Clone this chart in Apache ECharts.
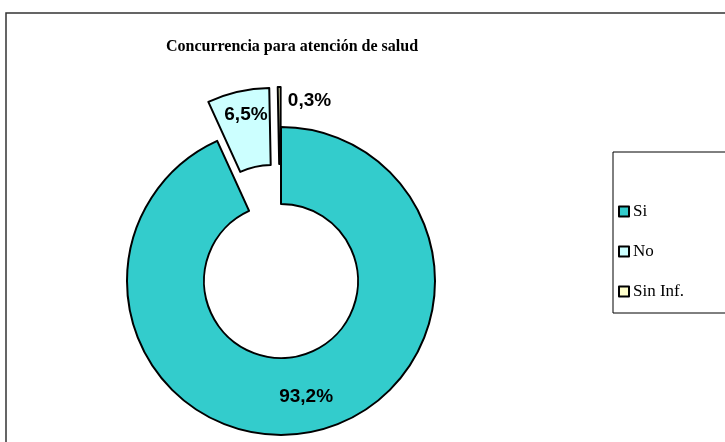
<!DOCTYPE html>
<html>
<head>
<meta charset="utf-8">
<script src="https://cdn.jsdelivr.net/npm/echarts@6/dist/echarts.min.js"></script>
<style>
  html, body { margin: 0; padding: 0; background: #fff; }
  #chart { width: 725px; height: 442px; }
</style>
</head>
<body>
<div id="chart"></div>
<script>
// datos
var categorias = ['Si', 'No', 'Sin Inf.'];
var porcentajes = [93.2, 6.5, 0.3];
var colores = ['#33CCCC', '#CCFFFF', '#FFFFCC'];
var separados = [false, true, true];

var myChart = echarts.init(document.getElementById('chart'));

var datos = categorias.map(function (c, i) {
    return {
        name: c,
        value: porcentajes[i],
        selected: separados[i],
        itemStyle: { color: colores[i] }
    };
});

var option = {
    animation: false,
    title: {
        text: 'Concurrencia para atención de salud',
        left: 287,
        top: 34,
        textAlign: 'center',
        textStyle: {
            fontFamily: 'Liberation Serif',
            fontWeight: 'bold',
            fontSize: 16,
            color: '#000'
        }
    },
    legend: {
        orient: 'vertical',
        left: 613,
        top: 152,
        padding: [51, 60, 13, 5],
        itemGap: 23,
        itemWidth: 10,
        itemHeight: 10,
        icon: 'rect',
        borderColor: '#000',
        borderWidth: 1,
        textStyle: {
            fontFamily: 'Liberation Serif',
            fontSize: 17,
            color: '#000',
            padding: [0, 0, 0, -1]
        },
        data: categorias
    },
    graphic: [{
        type: 'rect',
        shape: { x: 6, y: 13, width: 760, height: 460 },
        style: { fill: null, stroke: '#333', lineWidth: 1.5 },
        silent: true
    }],
    series: [{
        name: 'Concurrencia',
        type: 'pie',
        center: [281, 281],
        radius: [77, 154],
        startAngle: 90,
        clockwise: true,
        selectedMode: 'multiple',
        selectedOffset: 40,
        avoidLabelOverlap: false,
        emphasis: { disabled: true },
        itemStyle: { borderColor: '#000', borderWidth: 2 },
        label: {
            show: true,
            position: 'inside',
            fontFamily: 'Liberation Sans',
            fontWeight: 'bold',
            fontSize: 19,
            color: '#000',
            formatter: function (p) {
                return p.value.toFixed(1).replace('.', ',') + '%';
            }
        },
        labelLine: { show: false },
        labelLayout: function (p) {
            if (p.dataIndex === 1) return { dy: -12 };
            if (p.dataIndex === 2) return { dx: 30, dy: -22 };
            return {};
        },
        data: datos
    }]
};

myChart.setOption(option, true);
</script>
</body>
</html>
